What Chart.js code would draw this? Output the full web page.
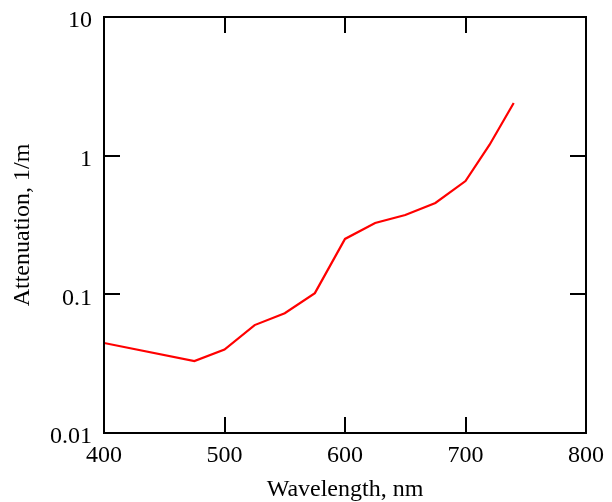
<!DOCTYPE html>
<html>
<head>
<meta charset="utf-8">
<script src="https://cdn.jsdelivr.net/npm/chart.js@4.4.1/dist/chart.umd.min.js"></script>
<style>
  html, body { margin: 0; padding: 0; background: #fff; }
  #wrap { width: 612px; height: 502px; position: relative; }
</style>
</head>
<body>
<div id="wrap"><canvas id="chart"></canvas></div>
<script>
// Attenuation spectrum
const wavelengths = [400, 475, 500, 525, 550, 575, 600, 625, 650, 675, 700, 720, 740];
const attenuation = [0.0446, 0.0330, 0.040, 0.060, 0.073, 0.102, 0.251, 0.327, 0.373, 0.456, 0.656, 1.20, 2.40];
const xTicks = [400, 500, 600, 700, 800];
const yTicks = [0.01, 0.1, 1, 10];

const serif = "'Liberation Serif', 'DejaVu Serif', serif";

// draws the box and the inward ticks on all four sides
const frameTicks = {
    id: 'frameTicks',
    afterDraw(chart) {
        const { ctx, chartArea: a, scales } = chart;
        const len = 16;
        ctx.save();
        ctx.strokeStyle = '#000';
        ctx.lineWidth = 2;
        ctx.strokeRect(a.left, a.top, a.right - a.left, a.bottom - a.top);
        ctx.beginPath();
        xTicks.slice(1, -1).forEach(v => {
            const px = Math.round(scales.x.getPixelForValue(v));
            ctx.moveTo(px, a.bottom); ctx.lineTo(px, a.bottom - len);
            ctx.moveTo(px, a.top); ctx.lineTo(px, a.top + len);
        });
        yTicks.slice(1, -1).forEach(v => {
            const py = Math.round(scales.y.getPixelForValue(v));
            ctx.moveTo(a.left, py); ctx.lineTo(a.left + len, py);
            ctx.moveTo(a.right, py); ctx.lineTo(a.right - len, py);
        });
        ctx.stroke();
        ctx.restore();
    }
};

new Chart(document.getElementById('chart'), {
    type: 'line',
    data: {
        datasets: [{
            data: wavelengths.map((w, i) => ({ x: w, y: attenuation[i] })),
            borderColor: '#ff0000',
            borderWidth: 2.2,
            pointRadius: 0,
            fill: false,
            tension: 0
        }]
    },
    options: {
        responsive: true,
        maintainAspectRatio: false,
        animation: false,
        layout: { padding: { top: 17, right: 26, left: 0, bottom: 0 } },
        plugins: {
            legend: { display: false },
            tooltip: { enabled: false }
        },
        scales: {
            x: {
                type: 'linear',
                min: 400,
                max: 800,
                afterBuildTicks: s => { s.ticks = xTicks.map(v => ({ value: v })); },
                afterFit: s => { s.height = 69; s.paddingLeft = 0; s.paddingRight = 0; },
                grid: { display: false, drawTicks: false },
                border: { display: false },
                ticks: {
                    color: '#000',
                    padding: 8,
                    maxRotation: 0,
                    font: { family: serif, size: 24 }
                },
                title: {
                    display: true,
                    text: 'Wavelength, nm',
                    color: '#000',
                    padding: { top: 0, bottom: -2 },
                    font: { family: serif, size: 24 }
                }
            },
            y: {
                type: 'logarithmic',
                min: 0.01,
                max: 10,
                afterBuildTicks: s => { s.ticks = yTicks.map(v => ({ value: v })); },
                afterFit: s => { s.width = 104; s.paddingTop = 0; s.paddingBottom = 0; },
                grid: { display: false, drawTicks: false },
                border: { display: false },
                ticks: {
                    color: '#000',
                    padding: 12,
                    labelOffset: 4,
                    font: { family: serif, size: 24 },
                    callback: v => String(v)
                },
                title: {
                    display: true,
                    text: 'Attenuation, 1/m',
                    color: '#000',
                    padding: { top: 8, bottom: 0 },
                    font: { family: serif, size: 24 }
                }
            }
        }
    },
    plugins: [frameTicks]
});
</script>
</body>
</html>
